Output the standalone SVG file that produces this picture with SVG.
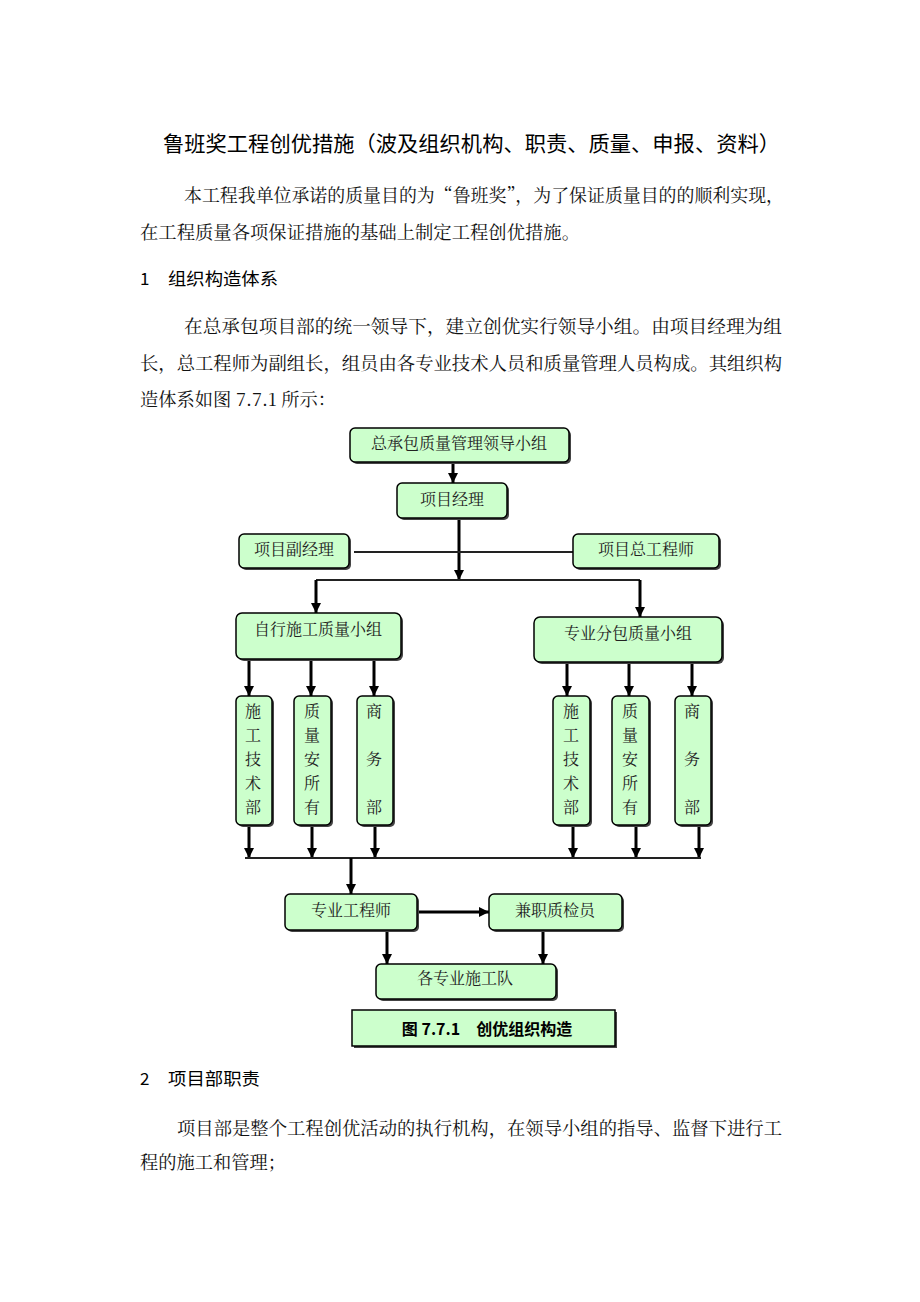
<svg xmlns="http://www.w3.org/2000/svg" width="920" height="1302" viewBox="0 0 920 1302">
<defs>
<marker id="ah" markerWidth="12" markerHeight="12" refX="10" refY="5" orient="auto" markerUnits="userSpaceOnUse">
<path d="M0,0 L10,5 L0,10 Z" fill="#000"/>
</marker>
<style>
.h{font-family:'Noto Sans CJK SC','Noto Sans CJK JP',sans-serif;fill:#000}
.b{font-family:'Noto Serif CJK SC','Noto Sans CJK SC','Noto Sans CJK JP',serif;fill:#111}
.box{fill:#ccffcc;stroke:#000;stroke-width:1.5}
.sh{fill:#444}
.lbl{font-family:'Noto Serif CJK SC','Noto Sans CJK SC','Noto Sans CJK JP',serif;font-size:16px;fill:#222;text-anchor:middle}
.arr{stroke:#000;stroke-width:3;fill:none;marker-end:url(#ah)}
.ln{stroke:#222;stroke-width:2;fill:none}
</style>
</defs>
<rect width="920" height="1302" fill="#fff"/>

<g id="text">
<text class="h" x="163" y="151" font-size="21" textLength="617" lengthAdjust="spacingAndGlyphs">鲁班奖工程创优措施（波及组织机构、职责、质量、申报、资料）</text>
<text class="b" x="184" y="202" font-size="18" textLength="600" lengthAdjust="spacingAndGlyphs">本工程我单位承诺的质量目的为“鲁班奖”，为了保证质量目的的顺利实现，</text>
<text class="b" x="140" y="239" font-size="18" textLength="440" lengthAdjust="spacingAndGlyphs">在工程质量各项保证措施的基础上制定工程创优措施。</text>
<text class="h" x="140" y="285" font-size="17">1</text>
<text class="h" x="168" y="285" font-size="17.5" textLength="110" lengthAdjust="spacingAndGlyphs">组织构造体系</text>
<text class="b" x="184" y="333" font-size="18" textLength="598" lengthAdjust="spacingAndGlyphs">在总承包项目部的统一领导下，建立创优实行领导小组。由项目经理为组</text>
<text class="b" x="140" y="370" font-size="18" textLength="642" lengthAdjust="spacingAndGlyphs">长，总工程师为副组长，组员由各专业技术人员和质量管理人员构成。其组织构</text>
<text class="b" x="140" y="406" font-size="18" textLength="196" lengthAdjust="spacingAndGlyphs">造体系如图 7.7.1 所示：</text>
<text class="h" x="140" y="1085" font-size="17">2</text>
<text class="h" x="168" y="1085" font-size="17.5" textLength="92" lengthAdjust="spacingAndGlyphs">项目部职责</text>
<text class="b" x="177" y="1135" font-size="18" textLength="605" lengthAdjust="spacingAndGlyphs">项目部是整个工程创优活动的执行机构，在领导小组的指导、监督下进行工</text>
<text class="b" x="140" y="1169" font-size="18" textLength="146" lengthAdjust="spacingAndGlyphs">程的施工和管理；</text>
</g>

<g id="connectors">
<path class="arr" d="M453,462 V483"/>
<path class="arr" d="M459,518 V580"/>
<path class="ln" d="M354,552 H573"/>
<path class="ln" d="M316,580 H640"/>
<path class="arr" d="M316,580 V613"/>
<path class="arr" d="M640,580 V617"/>
<path class="arr" d="M249,659 V696"/>
<path class="arr" d="M311,659 V696"/>
<path class="arr" d="M374,659 V696"/>
<path class="arr" d="M567,662 V696"/>
<path class="arr" d="M629,662 V696"/>
<path class="arr" d="M692,662 V696"/>
<path class="arr" d="M249,825 V858"/>
<path class="arr" d="M312,825 V858"/>
<path class="arr" d="M375,825 V858"/>
<path class="arr" d="M573,825 V858"/>
<path class="arr" d="M636,825 V858"/>
<path class="arr" d="M699,825 V858"/>
<path class="ln" d="M245,858 H701"/>
<path class="arr" d="M351,858 V894"/>
<path class="arr" d="M417,912 H489"/>
<path class="arr" d="M387,930 V964"/>
<path class="arr" d="M543,930 V964"/>
</g>

<g id="n-leader">
<rect class="sh" x="352" y="430" width="219" height="34" rx="5"/>
<rect class="box" x="350" y="428" width="219" height="34" rx="5"/>
<text class="lbl" x="459" y="449">总承包质量管理领导小组</text>
</g>
<g id="n-pm">
<rect class="sh" x="399" y="485" width="110" height="35" rx="5"/>
<rect class="box" x="397" y="483" width="110" height="35" rx="5"/>
<text class="lbl" x="452" y="505">项目经理</text>
</g>
<g id="n-dpm">
<rect class="sh" x="241" y="536" width="110" height="34" rx="5"/>
<rect class="box" x="239" y="534" width="110" height="34" rx="5"/>
<text class="lbl" x="294" y="555">项目副经理</text>
</g>
<g id="n-ce">
<rect class="sh" x="575" y="536" width="146" height="34" rx="5"/>
<rect class="box" x="573" y="534" width="146" height="34" rx="5"/>
<text class="lbl" x="646" y="555">项目总工程师</text>
</g>
<g id="n-self">
<rect class="sh" x="238" y="615" width="165" height="46" rx="6"/>
<rect class="box" x="236" y="613" width="165" height="46" rx="6"/>
<text class="lbl" x="318" y="635">自行施工质量小组</text>
</g>
<g id="n-sub">
<rect class="sh" x="536" y="619" width="188" height="45" rx="6"/>
<rect class="box" x="534" y="617" width="188" height="45" rx="6"/>
<text class="lbl" x="628" y="639">专业分包质量小组</text>
</g>

<g id="n-l1">
<rect class="sh" x="238" y="698" width="36" height="129" rx="5"/>
<rect class="box" x="236" y="696" width="36" height="129" rx="5"/>
<text class="lbl"><tspan x="253" y="717">施</tspan><tspan x="253" y="741">工</tspan><tspan x="253" y="765">技</tspan><tspan x="253" y="789">术</tspan><tspan x="253" y="813">部</tspan></text>
</g>
<g id="n-l2">
<rect class="sh" x="296" y="698" width="37" height="129" rx="5"/>
<rect class="box" x="294" y="696" width="37" height="129" rx="5"/>
<text class="lbl"><tspan x="312" y="717">质</tspan><tspan x="312" y="741">量</tspan><tspan x="312" y="765">安</tspan><tspan x="312" y="789">所</tspan><tspan x="312" y="813">有</tspan></text>
</g>
<g id="n-l3">
<rect class="sh" x="359" y="698" width="36" height="129" rx="5"/>
<rect class="box" x="357" y="696" width="36" height="129" rx="5"/>
<text class="lbl"><tspan x="374" y="717">商</tspan><tspan x="374" y="765">务</tspan><tspan x="374" y="813">部</tspan></text>
</g>
<g id="n-r1">
<rect class="sh" x="555" y="698" width="37" height="129" rx="5"/>
<rect class="box" x="553" y="696" width="37" height="129" rx="5"/>
<text class="lbl"><tspan x="571" y="717">施</tspan><tspan x="571" y="741">工</tspan><tspan x="571" y="765">技</tspan><tspan x="571" y="789">术</tspan><tspan x="571" y="813">部</tspan></text>
</g>
<g id="n-r2">
<rect class="sh" x="614" y="698" width="37" height="129" rx="5"/>
<rect class="box" x="612" y="696" width="37" height="129" rx="5"/>
<text class="lbl"><tspan x="630" y="717">质</tspan><tspan x="630" y="741">量</tspan><tspan x="630" y="765">安</tspan><tspan x="630" y="789">所</tspan><tspan x="630" y="813">有</tspan></text>
</g>
<g id="n-r3">
<rect class="sh" x="677" y="698" width="36" height="129" rx="5"/>
<rect class="box" x="675" y="696" width="36" height="129" rx="5"/>
<text class="lbl"><tspan x="692" y="717">商</tspan><tspan x="692" y="765">务</tspan><tspan x="692" y="813">部</tspan></text>
</g>

<g id="n-eng">
<rect class="sh" x="287" y="896" width="132" height="36" rx="5"/>
<rect class="box" x="285" y="894" width="132" height="36" rx="5"/>
<text class="lbl" x="351" y="916">专业工程师</text>
</g>
<g id="n-qc">
<rect class="sh" x="491" y="896" width="133" height="36" rx="5"/>
<rect class="box" x="489" y="894" width="133" height="36" rx="5"/>
<text class="lbl" x="555" y="916">兼职质检员</text>
</g>
<g id="n-team">
<rect class="sh" x="378" y="966" width="180" height="35" rx="5"/>
<rect class="box" x="376" y="964" width="180" height="35" rx="5"/>
<text class="lbl" x="465" y="984">各专业施工队</text>
</g>
<g id="caption">
<rect class="sh" x="354" y="1012" width="263" height="36"/>
<rect class="box" x="352" y="1010" width="263" height="36"/>
<text class="h" x="487" y="1035" font-size="16" text-anchor="middle" font-weight="bold">图 7.7.1　创优组织构造</text>
</g>
</svg>
